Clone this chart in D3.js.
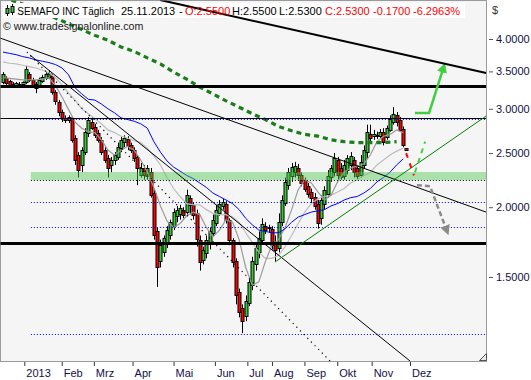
<!DOCTYPE html>
<html><head><meta charset="utf-8">
<script src="https://cdn.jsdelivr.net/npm/d3@7"></script>
<style>body{margin:0;background:#fff}svg{display:block}</style>
</head><body>
<svg id="c" width="531" height="380"></svg>
<script>
// ---------- DATA ----------
const open = [3.35,3.41,3.36,3.32,3.31,3.32,3.32,3.35,3.46,3.38,
3.32,3.30,3.36,3.41,3.43,3.43,3.21,3.09,2.96,2.89,
2.87,2.89,2.66,2.48,2.38,2.51,2.72,2.84,2.78,2.72,
2.64,2.53,2.45,2.38,2.43,2.46,2.55,2.62,2.65,2.58,
2.53,2.46,2.28,2.35,2.27,2.31,2.12,1.81,1.60,1.66,
1.73,1.78,1.85,1.93,1.94,1.98,1.96,2.08,2.02,1.95,
1.75,1.61,1.66,1.72,1.80,1.88,1.96,2.01,2.03,1.90,
1.75,1.60,1.41,1.32,1.28,1.35,1.45,1.58,1.66,1.75,
1.85,1.84,1.83,1.72,1.69,1.88,2.04,2.19,2.27,2.31,
2.35,2.28,2.24,2.18,2.13,2.09,2.03,1.91,2.03,2.11,
2.26,2.31,2.43,2.35,2.27,2.33,2.38,2.43,2.35,2.28,
2.38,2.51,2.70,2.68,2.69,2.69,2.73,2.67,2.75,2.85,
2.92,2.87,2.76,2.55];
const close = [3.46,3.34,3.30,3.30,3.34,3.31,3.35,3.53,3.38,3.31,
3.26,3.38,3.42,3.46,3.48,3.21,3.09,2.96,2.89,2.87,
2.90,2.64,2.43,2.33,2.53,2.73,2.87,2.77,2.69,2.64,
2.51,2.43,2.35,2.43,2.48,2.56,2.64,2.66,2.57,2.53,
2.45,2.35,2.35,2.28,2.35,2.10,1.78,1.56,1.71,1.76,
1.82,1.88,1.96,1.98,1.99,1.94,2.10,2.02,1.94,1.75,
1.60,1.68,1.75,1.81,1.90,1.98,2.03,2.04,1.90,1.75,
1.60,1.39,1.30,1.25,1.36,1.47,1.60,1.69,1.76,1.87,
1.82,1.83,1.71,1.68,1.88,2.06,2.22,2.31,2.36,2.37,
2.28,2.21,2.16,2.11,2.08,2.01,1.88,2.06,2.15,2.27,
2.35,2.45,2.28,2.26,2.38,2.45,2.47,2.31,2.27,2.41,
2.53,2.73,2.66,2.70,2.68,2.73,2.62,2.77,2.88,2.94,
2.84,2.75,2.58,2.53];
const high = [3.49,3.43,3.38,3.35,3.35,3.35,3.36,3.58,3.49,3.41,
3.35,3.41,3.45,3.49,3.52,3.46,3.24,3.11,2.99,2.92,
2.92,2.91,2.69,2.51,2.56,2.77,2.90,2.90,2.82,2.75,
2.67,2.56,2.48,2.46,2.51,2.61,2.67,2.69,2.68,2.61,
2.56,2.48,2.40,2.38,2.38,2.35,2.15,1.84,1.75,1.78,
1.85,1.90,1.99,2.01,2.02,2.00,2.15,2.10,2.04,1.98,
1.78,1.70,1.78,1.84,1.94,2.02,2.06,2.07,2.05,1.91,
1.76,1.62,1.43,1.34,1.39,1.49,1.63,1.73,1.81,1.91,
1.88,1.86,1.85,1.78,1.95,2.10,2.26,2.35,2.40,2.41,
2.39,2.31,2.26,2.21,2.16,2.12,2.06,2.10,2.18,2.33,
2.38,2.50,2.46,2.40,2.43,2.48,2.51,2.46,2.38,2.48,
2.58,2.81,2.81,2.75,2.73,2.76,2.77,2.80,2.92,3.02,
2.96,2.90,2.79,2.55];
const low = [3.32,3.31,3.27,3.27,3.30,3.28,3.31,3.32,3.35,3.27,
3.20,3.27,3.34,3.38,3.39,3.18,3.05,2.91,2.84,2.83,
2.83,2.61,2.38,2.26,2.31,2.48,2.67,2.75,2.66,2.61,
2.48,2.40,2.26,2.31,2.38,2.43,2.51,2.56,2.53,2.50,
2.41,2.19,2.26,2.24,2.24,2.08,1.75,1.44,1.56,1.63,
1.69,1.75,1.82,1.88,1.90,1.91,1.94,1.94,1.90,1.70,
1.54,1.58,1.62,1.68,1.77,1.85,1.93,1.98,1.87,1.71,
1.56,1.34,1.27,1.19,1.25,1.33,1.42,1.54,1.62,1.72,
1.79,1.80,1.68,1.60,1.66,1.85,2.01,2.15,2.22,2.26,
2.24,2.18,2.13,2.08,2.03,1.98,1.83,1.86,1.98,2.08,
2.22,2.27,2.24,2.24,2.24,2.29,2.33,2.26,2.24,2.26,
2.35,2.45,2.62,2.64,2.65,2.66,2.58,2.64,2.73,2.81,
2.79,2.73,2.56,2.53];

// moving averages, one value every 2 bars
const maStep = 2;
const maFast = [3.41,3.40,3.39,3.38,3.38,3.38,3.39,3.41,3.30,3.15,
2.99,2.84,2.77,2.73,2.72,2.64,2.53,2.48,2.53,2.57,
2.53,2.43,2.31,2.17,2.01,1.89,1.84,1.87,1.93,1.96,
1.94,1.84,1.77,1.82,1.90,1.88,1.75,1.56,1.45,1.47,
1.60,1.71,1.75,1.84,1.98,2.15,2.24,2.21,2.13,2.06,
2.10,2.22,2.31,2.35,2.37,2.39,2.48,2.62,2.68,2.70,
2.75,2.72];
const maMid = [3.64,3.62,3.61,3.59,3.57,3.55,3.52,3.48,3.41,3.31,
3.20,3.11,3.00,2.94,2.88,2.82,2.75,2.72,2.68,2.66,
2.63,2.61,2.55,2.47,2.38,2.26,2.16,2.09,2.03,2.02,
2.02,1.98,1.95,1.94,1.94,1.92,1.88,1.80,1.73,1.66,
1.62,1.62,1.64,1.70,1.78,1.87,1.96,2.03,2.07,2.09,
2.10,2.13,2.16,2.21,2.24,2.28,2.31,2.38,2.43,2.48,
2.52,2.55];
const maBlue = [3.79,3.77,3.75,3.72,3.70,3.67,3.65,3.63,3.60,3.55,
3.45,3.27,3.19,3.12,3.11,3.06,3.00,2.95,2.89,2.87,
2.85,2.82,2.77,2.62,2.51,2.42,2.36,2.32,2.28,2.25,
2.21,2.17,2.12,2.09,2.06,2.03,1.98,1.91,1.86,1.82,
1.81,1.80,1.80,1.83,1.88,1.92,1.94,1.96,1.97,1.98,
2.01,2.03,2.06,2.08,2.09,2.12,2.16,2.22,2.26,2.31,
2.38,2.44];
// long moving average (dashed green), one value every 4 bars
const ma200Step = 4;
const ma200 = [4.76,4.66,4.58,4.49,4.36,4.26,4.16,4.06,3.98,3.87,
3.80,3.70,3.61,3.49,3.39,3.28,3.19,3.10,3.02,2.94,
2.87,2.79,2.74,2.70,2.68,2.64,2.62,2.61,2.61,2.61,2.62];

const yTicks = [1.5, 2.0, 2.5, 3.0, 3.5, 4.0];
const monthLabels = ["2013","Feb","Mrz","Apr","Mai","Jun","Jul","Aug","Sep","Okt","Nov","Dez"];
const monthPos = [6.5, 17.9, 27.7, 39.5, 52.0, 64.6, 74.5, 82.0, 91.9, 101.9, 112.4, 124.1];

const levelsThick = [3.296, 1.725];
const levelsThin = [2.888];
const levelsBlueDot = [2.875, 2.043, 1.843, 1.186];
const supportBand = [2.237, 2.312];
const levelStart = 8.5;

// trend lines: [bar1, price1, bar2, price2]
const trendThick = [47.9, 4.698, 147.3, 3.477];
const trendThin1 = [-0.92, 4.017, 147.3, 1.96];
const trendThin2 = [8.2, 3.745, 124.1, 1.061];
const trendDotted = [7.3, 3.79, 99.7, 1.061];
const trendGreen = [82.9, 1.595, 147.3, 2.912];

// forecast arrows [bar, price]
const fcRed = [[122.9, 2.50], [125.3, 2.28]];
const fcGreenDash = [[125.6, 2.31], [128.7, 2.62]];
const fcGreen = [[125.6, 2.95], [129.9, 2.95], [134.4, 3.57]];
const fcGray = [[126.2, 2.19], [130.2, 2.18], [135.4, 1.81]];

// ---------- CHART ----------
const svg = d3.select('#c');
const PR = 486, PB = 361;
const x = d3.scaleLinear().domain([-0.915, 147.26]).range([0, PR]);
const y = d3.scaleLog().domain([1.5, 4]).range([277, 39]);
const FONT = '"Liberation Sans", Arial, sans-serif';

svg.append('rect').attr('width',531).attr('height',380).attr('fill','#fff');
const defs = svg.append('defs');
defs.append('clipPath').attr('id','pc')
  .append('rect').attr('x',0.5).attr('y',0.5).attr('width',PR).attr('height',PB);
function marker(id, col){
  defs.append('marker').attr('id',id).attr('viewBox','0 0 10 10').attr('refX',6).attr('refY',5)
    .attr('markerWidth',4).attr('markerHeight',4).attr('orient','auto').attr('markerUnits','strokeWidth')
    .append('path').attr('d','M0,0L10,5L0,10Z').attr('fill',col);
}
marker('mg','#3fcf3f'); marker('my','#8a8a8a');

svg.append('rect').attr('x',0.5).attr('y',0.5).attr('width',PR).attr('height',PB)
  .attr('fill','#f5f5f5').attr('stroke','#9a9a9a');

const g = svg.append('g').attr('clip-path','url(#pc)');
const line = d3.line().x(d=>x(d[0])).y(d=>y(d[1]));

// candles
const bars = close.map((c,i)=>({i, o:open[i], h:high[i], l:low[i], c}));
const cx = d => Math.round(x(d.i));
g.append('g').selectAll('line').data(bars).join('line')
  .attr('x1',d=>cx(d)+0.5).attr('x2',d=>cx(d)+0.5)
  .attr('y1',d=>y(d.h)).attr('y2',d=>y(d.l))
  .attr('stroke','#000').attr('stroke-width',1);
g.append('g').selectAll('rect').data(bars).join('rect')
  .attr('x',d=>cx(d)-1).attr('width',3)
  .attr('y',d=>Math.round(y(Math.max(d.o,d.c)))+0.5)
  .attr('height',d=>Math.max(1,Math.round(Math.abs(y(d.o)-y(d.c)))))
  .attr('fill',d=>d.c>=d.o?'#33cc33':'#ff0000')
  .attr('stroke','#000').attr('stroke-width',1);

// moving averages
const toPts = (arr, step) => arr.map((v,k)=>[k*step, v]);
g.append('path').attr('d',line(toPts(maMid,maStep))).attr('fill','none').attr('stroke','#bdbdbd').attr('stroke-width',1.2);
g.append('path').attr('d',line(toPts(maFast,maStep))).attr('fill','none').attr('stroke','#9a9a9a').attr('stroke-width',1.2);
g.append('path').attr('d',line(toPts(maBlue,maStep))).attr('fill','none').attr('stroke','#0000ff').attr('stroke-width',1);
g.append('path').attr('d',line(toPts(ma200,ma200Step))).attr('fill','none').attr('stroke','#1c7c1c')
  .attr('stroke-width',3.2).attr('stroke-dasharray','5,4');

// support band (semi-transparent, on top of candles)
g.append('rect').attr('x',x(levelStart)).attr('width',PR-x(levelStart))
  .attr('y',y(supportBand[1])).attr('height',y(supportBand[0])-y(supportBand[1]))
  .attr('fill','rgb(80,200,80)').attr('fill-opacity',0.45);
g.append('line').attr('x1',x(levelStart)).attr('x2',PR)
  .attr('y1',Math.round(y(supportBand[0]))+0.5).attr('y2',Math.round(y(supportBand[0]))+0.5)
  .attr('stroke','#000').attr('stroke-dasharray','1,2');

// horizontal levels
levelsBlueDot.forEach(v=>{
  const yy = Math.round(y(v))+0.5;
  g.append('line').attr('x1',x(levelStart)).attr('x2',PR).attr('y1',yy).attr('y2',yy)
    .attr('stroke','#0000dd').attr('stroke-dasharray','1,2');
});
levelsThin.forEach(v=>{
  const yy = Math.round(y(v))+0.5;
  g.append('line').attr('x1',0).attr('x2',PR).attr('y1',yy).attr('y2',yy).attr('stroke','#000');
});
levelsThick.forEach(v=>{
  const yy = Math.round(y(v))+0.5;
  g.append('line').attr('x1',0).attr('x2',PR).attr('y1',yy).attr('y2',yy).attr('stroke','#000').attr('stroke-width',3);
});

// trend lines
function tl(t){ return line([[t[0],t[1]],[t[2],t[3]]]); }
g.append('path').attr('d',tl(trendThin1)).attr('stroke','#000').attr('stroke-width',1);
g.append('path').attr('d',tl(trendThin2)).attr('stroke','#000').attr('stroke-width',1);
g.append('path').attr('d',tl(trendDotted)).attr('stroke','#000').attr('stroke-width',1.2).attr('stroke-dasharray','1.2,4');
g.append('path').attr('d',tl(trendGreen)).attr('stroke','#008000').attr('stroke-width',1);

// forecast arrows
g.append('path').attr('d',line(fcRed)).attr('fill','none').attr('stroke','#ff0000').attr('stroke-width',2).attr('stroke-dasharray','5,6');
g.append('path').attr('d',line(fcGreenDash)).attr('fill','none').attr('stroke','#3fcf3f').attr('stroke-width',2).attr('stroke-dasharray','5,5');
g.append('path').attr('d',line(fcGreen)).attr('fill','none').attr('stroke','#3fcf3f').attr('stroke-width',2.5).attr('marker-end','url(#mg)');
g.append('path').attr('d',line(fcGray)).attr('fill','none').attr('stroke','#8a8a8a').attr('stroke-width',2.5).attr('stroke-dasharray','5,3').attr('marker-end','url(#my)');

// title box
svg.append('rect').attr('x',3).attr('y',3).attr('width',462).attr('height',15).attr('fill','#fff');
// thick top trend line over title box
svg.append('g').attr('clip-path','url(#pc)').append('path').attr('d',tl(trendThick)).attr('stroke','#000').attr('stroke-width',2);

// candle icon
const ic = svg.append('g');
ic.append('line').attr('x1',7.5).attr('x2',7.5).attr('y1',5).attr('y2',16).attr('stroke','#000');
ic.append('rect').attr('x',6).attr('y',8.5).attr('width',3).attr('height',5).attr('fill','#33cc33').attr('stroke','#000');
ic.append('line').attr('x1',12.5).attr('x2',12.5).attr('y1',4).attr('y2',15).attr('stroke','#000');
ic.append('rect').attr('x',11).attr('y',6.5).attr('width',3).attr('height',6).attr('fill','#33cc33').attr('stroke','#000');

const titleParts = [
  {t:'SEMAFO INC Täglich', x:17.3, s:10, c:'#000'},
  {t:'25.11.2013', x:121, s:11, c:'#000'},
  {t:'-', x:179, s:11, c:'#000'},
  {t:'O:2.5500', x:185, s:11, c:'#ff0000'},
  {t:'H:2.5500', x:232, s:11, c:'#000'},
  {t:'L:2.5300', x:279, s:11, c:'#000'},
  {t:'C:2.5300', x:325, s:11, c:'#ff0000'},
  {t:'-0.1700', x:373, s:11, c:'#ff0000'},
  {t:'-6.2963%', x:413, s:11, c:'#ff0000'}
];
svg.append('g').selectAll('text').data(titleParts).join('text')
  .attr('x',d=>d.x).attr('y',14.5).text(d=>d.t)
  .attr('fill',d=>d.c).attr('font-family',FONT).attr('font-size',d=>d.s+'px');
svg.append('text').attr('x',3).attr('y',29.5).text('© www.tradesignalonline.com')
  .attr('fill','#222').attr('font-family',FONT).attr('font-size','10.7px');

// right axis
const ya = d3.axisRight(y).tickValues(yTicks).tickFormat(d3.format('.4f')).tickSize(4).tickPadding(3);
const yg = svg.append('g').attr('transform','translate(489,0)').call(ya);
yg.select('.domain').remove();
yg.selectAll('line').attr('stroke','#555');
yg.selectAll('text').attr('fill','#10104a').attr('font-family',FONT).attr('font-size','11px');
svg.append('text').attr('x',492).attr('y',14).text('$').attr('fill','#333').attr('font-family',FONT).attr('font-size','11px');

// bottom axis
const xa = d3.axisBottom(x).tickValues(monthPos).tickFormat((d,i)=>monthLabels[i]).tickSize(4);
const xg = svg.append('g').attr('transform','translate(0,362)').call(xa);
xg.select('.domain').remove();
xg.selectAll('line').attr('stroke','#333');
xg.selectAll('text').attr('text-anchor','start').attr('x',1.5).attr('y',7).attr('dy','0.71em')
  .attr('fill','#10104a').attr('font-family',FONT).attr('font-size','11px');

// resize grip
svg.append('path').attr('d','M479.5,360.5L486.5,353.5L486.5,360.5Z').attr('fill','#e8e8e8').attr('stroke','#555');
</script>
</body></html>
